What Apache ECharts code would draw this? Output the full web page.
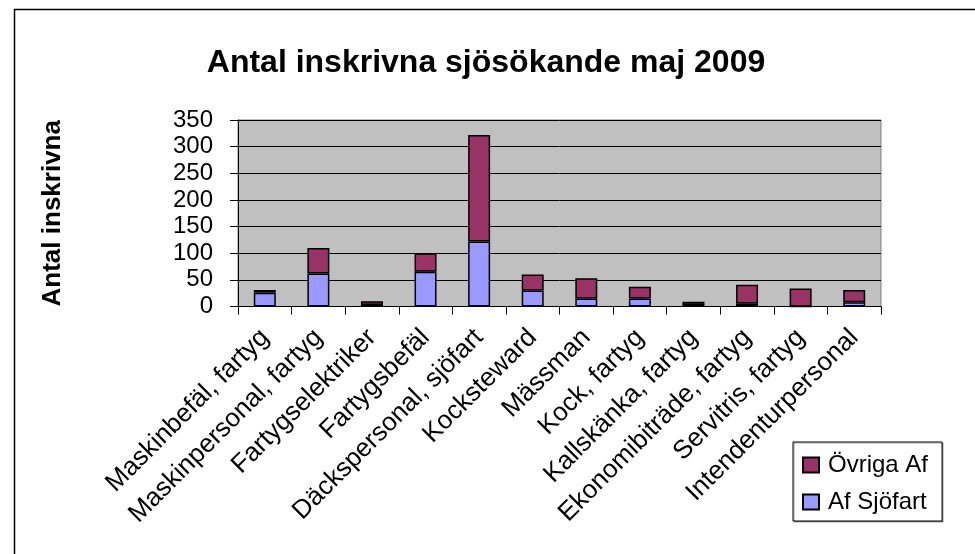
<!DOCTYPE html>
<html>
<head>
<meta charset="utf-8">
<script src="https://cdn.jsdelivr.net/npm/echarts@6/dist/echarts.min.js"></script>
<style>
html,body{margin:0;padding:0;background:#fff;}
#chart{width:975px;height:554px;}
</style>
</head>
<body>
<div id="chart"></div>
<script>
var titleText = 'Antal inskrivna sjösökande maj 2009';
var yAxisTitle = 'Antal inskrivna';
var categories = ['Maskinbefäl, fartyg','Maskinpersonal, fartyg','Fartygselektriker','Fartygsbefäl','Däckspersonal, sjöfart','Kocksteward','Mässman','Kock, fartyg','Kallskänka, fartyg','Ekonomibiträde, fartyg','Servitris, fartyg','Intendenturpersonal'];
var seriesNames = ['Af Sjöfart','Övriga Af'];
var afSjofart = [26, 62, 3, 65, 122, 30, 15, 15, 3, 5, 0, 8];
var ovrigaAf = [5, 48, 7, 35, 200, 30, 38, 22, 6, 36, 34, 23];
var yTicks = {min: 0, max: 350, interval: 50};

var FONT = '"Liberation Sans", Arial, sans-serif';
var chart = echarts.init(document.getElementById('chart'), null, {renderer: 'canvas'});
chart.setOption({
  animation: false,
  backgroundColor: '#ffffff',
  textStyle: {fontFamily: FONT, color: '#000'},
  graphic: [{
    type: 'rect', left: 12, top: 7, z: -1,
    shape: {width: 2000, height: 2000},
    style: {fill: 'none', stroke: '#000', lineWidth: 1.5}
  }],
  title: {
    text: titleText, left: 481, top: 42, textAlign: 'center',
    textStyle: {fontFamily: FONT, fontSize: 32, fontWeight: 'bold', color: '#000'}
  },
  legend: {
    orient: 'vertical', left: 793, top: 442,
    data: [seriesNames[1], seriesNames[0]],
    itemWidth: 16, itemHeight: 15, itemGap: 13,
    padding: [11, 14, 7, 9],
    borderColor: '#000', borderWidth: 1,
    shadowColor: 'rgba(0,0,0,0.35)', shadowOffsetX: 1, shadowOffsetY: 1,
    backgroundColor: '#fff',
    icon: 'rect',
    textStyle: {fontFamily: FONT, fontSize: 24, color: '#000', lineHeight: 24, padding: [0,0,0,4]}
  },
  grid: {
    left: 238, right: 94, top: 120, bottom: 247.5,
    show: true, backgroundColor: '#c0c0c0', borderColor: '#808080', borderWidth: 1
  },
  xAxis: {
    type: 'category', data: categories,
    axisLine: {show: true, lineStyle: {color: '#000', width: 1}},
    axisTick: {show: true, length: 8, alignWithLabel: false, lineStyle: {color: '#000'}},
    axisLabel: {rotate: 45, fontSize: 26, fontFamily: FONT, color: '#000', margin: 27, interval: 0}
  },
  yAxis: {
    type: 'value', min: yTicks.min, max: yTicks.max, interval: yTicks.interval,
    name: yAxisTitle, nameLocation: 'middle', nameRotate: 90, nameGap: 172,
    nameTextStyle: {fontFamily: FONT, fontSize: 26, fontWeight: 'bold', color: '#000'},
    axisLine: {show: true, lineStyle: {color: '#000', width: 1}},
    axisTick: {show: true, length: 8, lineStyle: {color: '#000'}},
    axisLabel: {fontSize: 24, fontFamily: FONT, color: '#000', margin: 25},
    splitLine: {show: true, lineStyle: {color: '#000', width: 1}}
  },
  series: [
    {name: seriesNames[0], type: 'bar', stack: 'total', data: afSjofart, barWidth: 22,
     itemStyle: {color: '#9999ff', borderColor: '#000', borderWidth: 1.5}},
    {name: seriesNames[1], type: 'bar', stack: 'total', data: ovrigaAf, barWidth: 22,
     itemStyle: {color: '#993366', borderColor: '#000', borderWidth: 1.5}}
  ]
});
</script>
</body>
</html>
